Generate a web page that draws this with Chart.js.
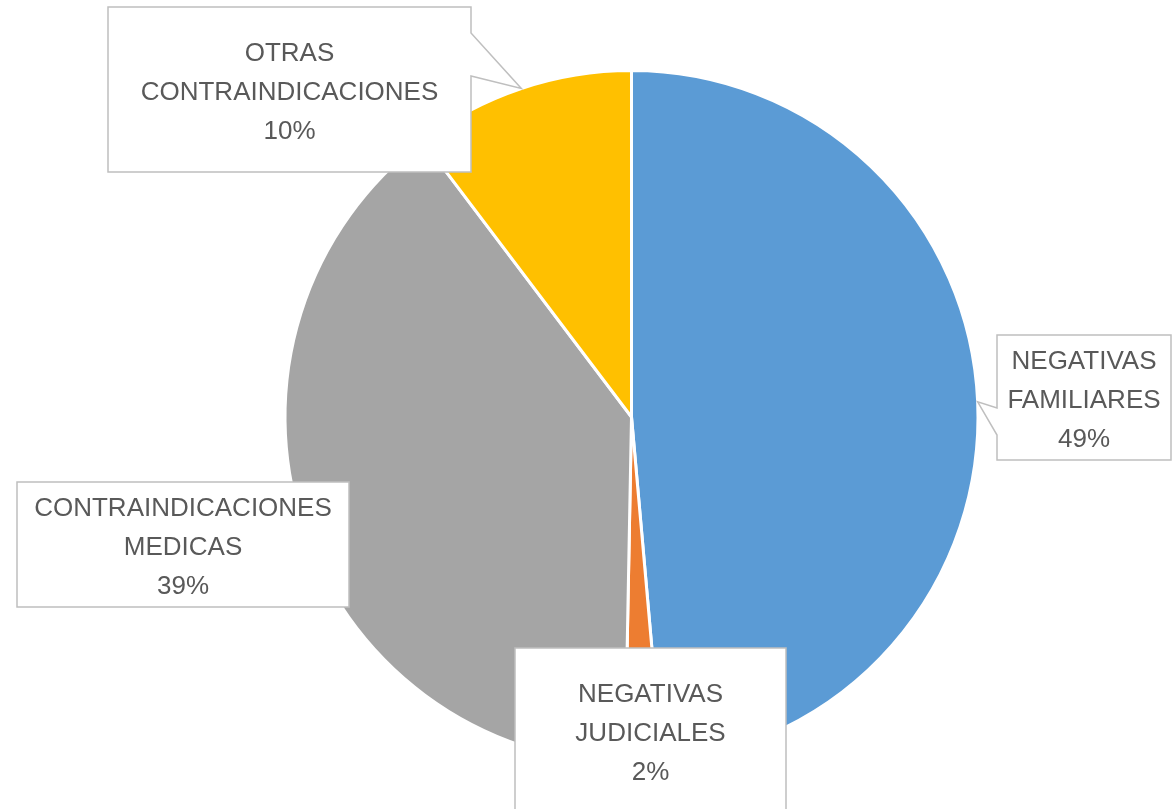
<!DOCTYPE html>
<html>
<head>
<meta charset="utf-8">
<script src="https://cdn.jsdelivr.net/npm/chart.js@4/dist/chart.umd.min.js"></script>
<style>
  html, body { margin: 0; padding: 0; background: #fff; }
  canvas { display: block; }
</style>
</head>
<body>
<canvas id="pie-chart" width="1174" height="809"></canvas>
<script>
// Data
const categories = [
    ['NEGATIVAS', 'FAMILIARES'],
    ['NEGATIVAS', 'JUDICIALES'],
    ['CONTRAINDICACIONES', 'MEDICAS'],
    ['OTRAS', 'CONTRAINDICACIONES']
];
const values = [48.6, 1.7, 39.4, 10.3];
const colors = ['#5B9BD5', '#ED7D31', '#A5A5A5', '#FFC000'];

// Label boxes (layout only), same order as categories
const labelBoxes = [
    { x: 997, y: 335, w: 174, h: 125, side: 'left', base: [73, 100] },
    { x: 515, y: 648, w: 271, h: 164, side: null },
    { x: 17, y: 482, w: 332, h: 125, side: null },
    { x: 108, y: 7, w: 363, h: 165, side: 'right', base: [26, 69] }
];

const total = values.reduce((a, b) => a + b, 0);

const calloutLabels = {
    id: 'calloutLabels',
    afterDatasetsDraw(chart) {
        const ctx = chart.ctx;
        const meta = chart.getDatasetMeta(0);
        ctx.save();
        meta.data.forEach((arc, i) => {
            const b = labelBoxes[i];
            const mid = (arc.startAngle + arc.endAngle) / 2;
            const tx = arc.x + Math.cos(mid) * arc.outerRadius;
            const ty = arc.y + Math.sin(mid) * arc.outerRadius;

            ctx.beginPath();
            ctx.moveTo(b.x, b.y);
            if (b.side === 'right') {
                ctx.lineTo(b.x + b.w, b.y);
                ctx.lineTo(b.x + b.w, b.y + b.base[0]);
                ctx.lineTo(tx, ty);
                ctx.lineTo(b.x + b.w, b.y + b.base[1]);
                ctx.lineTo(b.x + b.w, b.y + b.h);
                ctx.lineTo(b.x, b.y + b.h);
            } else if (b.side === 'left') {
                ctx.lineTo(b.x + b.w, b.y);
                ctx.lineTo(b.x + b.w, b.y + b.h);
                ctx.lineTo(b.x, b.y + b.h);
                ctx.lineTo(b.x, b.y + b.base[1]);
                ctx.lineTo(tx, ty);
                ctx.lineTo(b.x, b.y + b.base[0]);
            } else {
                ctx.lineTo(b.x + b.w, b.y);
                ctx.lineTo(b.x + b.w, b.y + b.h);
                ctx.lineTo(b.x, b.y + b.h);
            }
            ctx.closePath();
            ctx.fillStyle = '#ffffff';
            ctx.fill();
            ctx.lineWidth = 1.5;
            ctx.strokeStyle = '#BFBFBF';
            ctx.stroke();

            const lines = categories[i].concat([Math.round(values[i] / total * 100) + '%']);
            ctx.fillStyle = '#595959';
            ctx.font = '26px "Liberation Sans", Arial, sans-serif';
            ctx.textAlign = 'center';
            ctx.textBaseline = 'alphabetic';
            const cx = b.x + b.w / 2;
            const cy = b.y + b.h / 2 + 1.5;
            lines.forEach((line, j) => {
                ctx.fillText(line, cx, cy + (j - 1) * 39 + 9.3);
            });
        });
        ctx.restore();
    }
};

let ctx = document.getElementById('pie-chart').getContext('2d');
// eslint-disable-next-line no-undef
new Chart(ctx, {
    type: 'pie',
    data: {
        labels: categories,
        datasets: [{
            data: values,
            backgroundColor: colors,
            borderColor: '#ffffff',
            borderWidth: 3,
            hoverOffset: 0,
            offset: 0
        }]
    },
    options: {
        responsive: false,
        animation: false,
        devicePixelRatio: 1,
        layout: {
            padding: { left: 89, right: 0, top: 69, bottom: 44 }
        },
        plugins: {
            legend: { display: false },
            tooltip: { enabled: false }
        }
    },
    plugins: [calloutLabels]
});
</script>
</body>
</html>
